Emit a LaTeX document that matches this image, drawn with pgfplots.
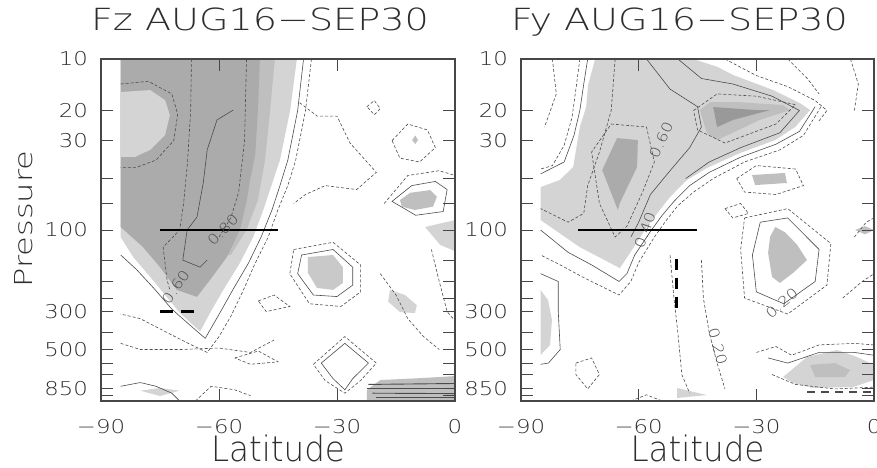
\documentclass[border=0pt]{standalone}
\usepackage{fontspec}
\usepackage{pgfplots}
\pgfplotsset{compat=1.18}
\IfFontExistsTF{DejaVu Sans ExtraLight}{\def\myfont{DejaVu Sans ExtraLight}}{\def\myfont{DejaVu Sans}}
\setmainfont{\myfont}
\newfontfamily\tfont{\myfont}[FakeStretch=1.2]
\newfontfamily\ttfont{\myfont}[FakeStretch=1.25]
\newfontfamily\pfont{\myfont}[FakeStretch=1.3]
\newfontfamily\lfont{\myfont}[FakeStretch=0.93]
\newcommand\tickf{\tfont\fontsize{19}{19}\selectfont}
\newcommand\titf{\ttfont\fontsize{30.5}{31}\selectfont}
\newcommand\presf{\pfont\fontsize{24.7}{25}\selectfont}
\newcommand\labf{\lfont\fontsize{35}{35}\selectfont}
\newcommand\clf{\tfont\fontsize{14}{14}\selectfont}
\definecolor{gA}{gray}{0.83}
\definecolor{gB}{gray}{0.75}
\definecolor{gC}{gray}{0.67}
\definecolor{gD}{gray}{0.60}
\definecolor{lnc}{gray}{0.30}
\definecolor{frc}{gray}{0.28}
\definecolor{txt}{gray}{0.18}
\pgfplotsset{
  myax/.style={
    scale only axis, height=342pt, anchor=south west,
    xmin=-90, xmax=0, ymin=10, ymax=1000, y dir=reverse,
    xtick={-90,-60,-30,0}, xticklabels={−90,−60,−30,0},
    ytick={10,20,30,50,70,100,150,200,250,300,400,500,600,700,850,925,1000},
    yticklabels={10,20,30,,,100,,,,300,,500,,,850,,},
    xminorticks=false, yminorticks=false,
    xticklabel pos=lower, yticklabel pos=left, tick pos=both,
    tick align=inside, major tick length=12pt,
    tick style={line width=1pt, color=frc},
    axis line style={line width=1.3pt, color=frc},
    axis on top,
    yticklabel style={font=\tickf, anchor=east, inner sep=0pt, xshift=-13pt, text=txt},
    xticklabel style={font=\tickf, anchor=north, inner sep=0pt, yshift=-18pt, text=txt},
    title style={font=\titf, at={(axis description cs:0.449,1.067)}, anchor=base, inner sep=0pt, text=txt},
    xlabel style={font=\labf, at={(axis description cs:0.5,-0.178)}, anchor=base, inner sep=0pt, text=txt},
    ylabel style={font=\presf, at={(axis description cs:-0.2175,0.532)}, anchor=center, inner sep=0pt, text=txt},
  },
  cSo/.style={lnc, line width=0.6pt},
  cDa/.style={lnc, line width=0.6pt, dash pattern=on 3pt off 2pt},
  fillg/.style={draw=none, fill=#1},
}
\begin{document}
\begin{tikzpicture}
\useasboundingbox (0,0) rectangle (877pt,467pt);
% ---------------- LEFT PANEL -----------------
\begin{axis}[ymode=log, myax, at={(101pt,66pt)}, width=354pt,
  title={Fz AUG16−SEP30}, xlabel={Latitude}, ylabel={Pressure}]
\addplot[fillg=gA] coordinates {(-85,10) (-40.2,10) (-41.9,19.9) (-44.5,39) (-46.2,51) (-47,58) (-48.7,76) (-51.3,110) (-54.7,156) (-58.9,224) (-62.3,306) (-64.8,392) (-69.9,306) (-73.3,246) (-77.5,188) (-81.8,144) (-85,110)} --cycle;
\addplot[fillg=gB] coordinates {(-60,10) (-45.8,10) (-47,19.9) (-48.3,39) (-50.1,66.8) (-53,100) (-57,140) (-60,140)} --cycle;
\addplot[fillg=gC] coordinates {(-85,10) (-49.6,10) (-50.1,19.9) (-50.8,36.4) (-52.1,51) (-52.9,66.8) (-54.7,100) (-58.0,144) (-62.3,196) (-65.6,246) (-70.7,224) (-75.0,165) (-79.3,126) (-85,96)} --cycle;
\addplot[fillg=gA] coordinates {(-85,15.6) (-77.5,15.2) (-73.7,17.4) (-72.5,21.3) (-73.7,27.8) (-77.5,34) (-81.4,37.4) (-85,37.4)} --cycle;
\addplot[fillg=gA!95!black] coordinates {(-37.4,144) (-31,140) (-28.5,165) (-28.5,204) (-31,224) (-35.1,218) (-37.4,178)} --cycle;
\addplot[fillg=gA] coordinates {(-16.5,224) (-12.7,240) (-9.7,275) (-10.2,306) (-14,302) (-17,262)} --cycle;
\addplot[fillg=gB] coordinates {(-14,66.8) (-11.4,60.6) (-6.3,58.4) (-4.6,64) (-5.6,73) (-10.2,76.4) (-13.5,73)} --cycle;
\addplot[fillg=gB] coordinates {(-10.9,29.8) (-10.1,28) (-9.4,29.8) (-10.1,31.4)} --cycle;
\addplot[fillg=gA] coordinates {(-7.6,96) (0,87.5) (0,133) (-3.8,122)} --cycle;
\addplot[fillg=gB] coordinates {(-22.4,862) (-19,754) (-8.9,735) (0,715) (0,1000) (-22.4,1000)} --cycle;
\addplot[fillg=gA] coordinates {(-80,870) (-75,839) (-70,870) (-75,935)} --cycle;
% contour lines
\addplot[cDa] coordinates {(-85,14) (-78,13.5) (-72,16) (-70.5,21) (-71.5,30) (-76,39) (-81,43) (-85,43)};
\addplot[cDa] coordinates {(-67,10) (-67.2,20) (-68,40) (-69,70) (-70,100) (-74.2,126) (-73.2,196) (-72.5,224)};
\addplot[cSo] coordinates {(-56.4,19.9) (-60.5,22.7) (-63,34) (-64,53) (-65.6,84) (-68.1,100) (-69.2,150) (-64.8,165) (-63,150)};
\addplot[cDa] coordinates {(-53,10) (-53.5,30) (-55,60) (-57,85) (-60,110)};
\addplot[cSo] coordinates {(-38.5,10) (-40,20) (-42.5,39) (-44.5,55) (-46.5,76) (-49.3,110) (-52.5,156) (-56.5,224) (-59.8,306) (-63.5,430) (-68,350) (-72,290) (-76.5,220) (-81,170) (-85,140)};
\addplot[cDa] coordinates {(-36.5,10) (-38,20) (-40.5,39) (-42.5,55) (-45,76) (-47.5,110) (-51,160) (-54,230) (-57,320) (-60,420) (-63,520) (-67,470) (-73,400) (-80,330) (-85,310)};
\addplot[cDa] coordinates {(-39.5,18) (-35,21.6) (-30,21.6) (-26.7,31) (-20,46) (-25,58) (-33,55) (-38,62) (-41,70)};
\addplot[cDa] coordinates {(-22.4,19) (-20.5,17.5) (-19,19.5) (-20.5,21.2)} --cycle;
\addplot[cSo] coordinates {(-16,68) (-11,55) (-5,52) (-2,58) (-3,78) (-10,82)} --cycle;
\addplot[cDa] coordinates {(-18,70) (-12,48) (-4,45) (0,48)};
\addplot[cDa] coordinates {(-16,30) (-12,24) (-7,26) (-5,33) (-9,40) (-14,38)} --cycle;
\addplot[cSo] coordinates {(-39,140) (-31,130) (-26,165) (-26,210) (-30,245) (-36,240) (-40,180)} --cycle;
\addplot[cDa] coordinates {(-41,130) (-31,118) (-24,160) (-24,230) (-29,280) (-37,270) (-42,180)} --cycle;
\addplot[cSo] coordinates {(-34,600) (-28,460) (-22,600) (-26,740) (-28,860) (-31,740)} --cycle;
\addplot[cDa] coordinates {(-36,610) (-28,420) (-20,600) (-24,760) (-28,900) (-33,760)} --cycle;
\addplot[cDa] coordinates {(-85,460) (-80,500) (-70,500) (-60,490) (-52,520) (-46,440)};
\addplot[cDa] coordinates {(-56,560) (-50,510) (-45,590) (-52,610)} --cycle;
\addplot[cDa] coordinates {(-50,260) (-46,240) (-42,280) (-48,300)} --cycle;
\addplot[cDa] coordinates {(-19,180) (-15,240) (-12,330) (-8,420) (-4,500)};
\addplot[cDa] coordinates {(-6,130) (-4,200) (-2,300) (0,340)};
\addplot[cSo] coordinates {(-85,820) (-80,780) (-76,820) (-72,900) (-70,1000)};
\addplot[cDa] coordinates {(-66,1000) (-62,820) (-56,860) (-52,930)};
\addplot[lnc, line width=0.9pt] coordinates {(-22,800) (0,790)};
\addplot[lnc, line width=0.9pt] coordinates {(-22.4,850) (0,850)};
\addplot[lnc, line width=0.9pt] coordinates {(-21,900) (0,905)};
\addplot[lnc, line width=0.9pt] coordinates {(-20,955) (0,955)};
\addplot[black, line width=2.6pt] coordinates {(-75,100) (-45,100)};
\addplot[black, line width=2.6pt, dash pattern=on 13pt off 8pt] coordinates {(-75,300) (-66.2,300)};
\node[font=\clf, text=lnc, rotate=45] at (axis cs:-59,100) {0.80};
\node[font=\clf, text=lnc, rotate=55] at (axis cs:-71,215) {0.60};
\end{axis}
% ---------------- RIGHT PANEL -----------------
\begin{axis}[ymode=log, myax, at={(521pt,66pt)}, width=353pt,
  title={Fy AUG16−SEP30}, xlabel={Latitude}]
\addplot[fillg=gA] coordinates {(-71.1,10) (-46.1,10) (-40,11.1) (-35.9,12.4) (-25.7,15.2) (-18.9,18.1) (-16.3,19.9) (-20.1,25.0) (-25.2,29.8) (-34.2,35.5) (-42.6,43.4) (-47.7,51) (-52,64.1) (-54.6,76.4) (-57.9,96) (-62.2,136) (-64.8,167) (-75,126) (-85,87.5) (-85,56.1) (-80.1,51) (-76.7,42.8) (-75,25) (-73.4,19.1) (-72.9,14.2)} --cycle;
\addplot[fillg=gC] coordinates {(-65.5,29) (-60.2,29.8) (-60.4,42.8) (-64.8,69.5) (-65.3,76.4) (-69.3,44.6)} --cycle;
\addplot[fillg=gB] coordinates {(-44.4,19.9) (-41.8,17.9) (-34.2,17.9) (-23.2,18.6) (-21.4,19.9) (-29.1,22.7) (-40,29.8) (-42.6,27.1)} --cycle;
\addplot[fillg=gD] coordinates {(-41,19.1) (-29.8,19.9) (-26.5,19.9) (-35.9,22.7) (-40,25)} --cycle;
\addplot[fillg=gB] coordinates {(-31.1,47.7) (-22.7,46.4) (-22.2,53.1) (-30.3,54.6)} --cycle;
\addplot[fillg=gB] coordinates {(-25.2,96) (-22.7,103) (-19.6,122) (-17.1,150) (-20.6,178) (-24,204) (-26,188) (-27,136) (-26.5,110)} --cycle;
\addplot[fillg=gA] coordinates {(-23.2,724) (-17.1,553) (-9.4,503) (-4.3,553) (0,615) (0,754) (-5.3,828) (-15.5,839) (-20.6,785)} --cycle;
\addplot[fillg=gB] coordinates {(-16.3,615) (-9.9,600) (-6.1,659) (-7.4,724) (-15,724)} --cycle;
\addplot[fillg=gA] coordinates {(-85,224) (-83.1,257) (-82.1,336) (-82.6,471) (-85,538)} --cycle;
\addplot[fillg=gA] coordinates {(-50.2,839) (-42.6,923) (-50.2,960)} --cycle;
\addplot[fillg=gB] coordinates {(-4.8,100) (-2.3,95) (0,100) (-2.3,106)} --cycle;
% contour lines
\addplot[cDa] coordinates {(-67,24) (-58,25) (-56,40) (-59,60) (-63,95) (-66,110) (-70,70) (-72,35)} --cycle;
\addplot[cSo] coordinates {(-58,10) (-52,15) (-45,19) (-44,25) (-47,33) (-52,45) (-57,62) (-60,90) (-62,110)};
\addplot[cDa] coordinates {(-66,10) (-67,20) (-70,35) (-73,55) (-74,80) (-78,90) (-85,75)};
\addplot[cDa] coordinates {(-46,20) (-40,16) (-30,16.5) (-20,18.5) (-25,24) (-38,31) (-45,26)} --cycle;
\addplot[cSo] coordinates {(-50,10) (-44,13) (-36,14) (-26,16.5) (-19,20) (-24,27) (-34,33) (-42,40) (-48,50)};
\addplot[cSo] coordinates {(-15,19) (-19,26.5) (-25,31.5) (-34,37.5) (-42,46) (-47,55) (-51,68) (-54,82) (-57,102) (-61,140) (-63,180) (-65,200) (-72,160) (-78,135) (-85,100)};
\addplot[cDa] coordinates {(-13.5,19) (-18,28) (-24,34) (-33,40) (-41,50) (-46,60) (-50,72) (-53,88) (-56,110) (-60,155) (-62,200) (-65,240) (-74,190) (-80,160) (-85,140)};
\addplot[cSo] coordinates {(-73,10) (-74,14) (-75,20) (-76.5,28) (-79,40) (-85,47)};
\addplot[cDa] coordinates {(-75,10) (-76,15) (-77,22) (-79,32) (-82,42) (-85,44)};
\addplot[cDa] coordinates {(-82,10) (-81,16) (-84,25)};
\addplot[cDa] coordinates {(-38,10) (-30,12.5) (-22,14.5) (-15,17.5) (-12,20) (-14,23)};
\addplot[cDa] coordinates {(-22,10) (-17,13) (-14,16)};
\addplot[cDa] coordinates {(-6,10) (-4,14) (-5,20)};
\addplot[cSo] coordinates {(-29,90) (-22,85) (-14,130) (-15,200) (-23,270) (-30,230) (-31,140)} --cycle;
\addplot[cDa] coordinates {(-33,85) (-22,75) (-11,120) (-12,210) (-22,310) (-33,250) (-34,130)} --cycle;
\addplot[cDa] coordinates {(-35,50) (-30,42) (-20,44) (-18,55) (-25,62) (-33,60)} --cycle;
\addplot[cDa] coordinates {(-38,75) (-34,70) (-32,80) (-36,85)} --cycle;
\addplot[cDa] coordinates {(-52,140) (-51,250) (-50,400) (-49,700) (-47,900)};
\addplot[cDa] coordinates {(-44,150) (-43.5,250) (-42,400) (-40,600) (-38,850)};
\addplot[cSo] coordinates {(-85,180) (-80.5,200) (-80.5,300) (-80,500) (-83,600) (-85,610)};
\addplot[cDa] coordinates {(-76,600) (-72,560) (-70,700) (-73,850) (-76,700)} --cycle;
\addplot[cDa] coordinates {(-30,520) (-25,480) (-21,540) (-14,470) (-5,460) (0,470)};
\addplot[cSo] coordinates {(-27,560) (-22,600) (-14,520) (-5,520) (0,540)};
\addplot[cDa] coordinates {(-26,700) (-20,800) (-10,850) (0,830)};
\addplot[cDa] coordinates {(-8,250) (-3,200) (0,180)};
\addplot[cDa] coordinates {(-5,110) (-2,90) (0,85)};
\addplot[cDa] coordinates {(-62,1000) (-58,920) (-54,1000)};
\addplot[lnc, line width=2pt, dash pattern=on 8pt off 6pt] coordinates {(-17,890) (0,890)};
\addplot[black, line width=2.6pt] coordinates {(-75.4,100) (-45.2,100)};
\addplot[black, line width=3pt, dash pattern=on 11pt off 8pt] coordinates {(-50.3,147) (-50.3,302)};
\node[font=\clf, text=lnc, rotate=65] at (axis cs:-54.3,29.8) {0.60};
\node[font=\clf, text=lnc, rotate=70] at (axis cs:-58.4,100) {0.40};
\node[font=\clf, text=lnc, rotate=40] at (axis cs:-23.5,268) {0.20};
\node[font=\clf, text=lnc, rotate=-75] at (axis cs:-39.8,480) {0.20};
\end{axis}
\end{tikzpicture}
\end{document}
